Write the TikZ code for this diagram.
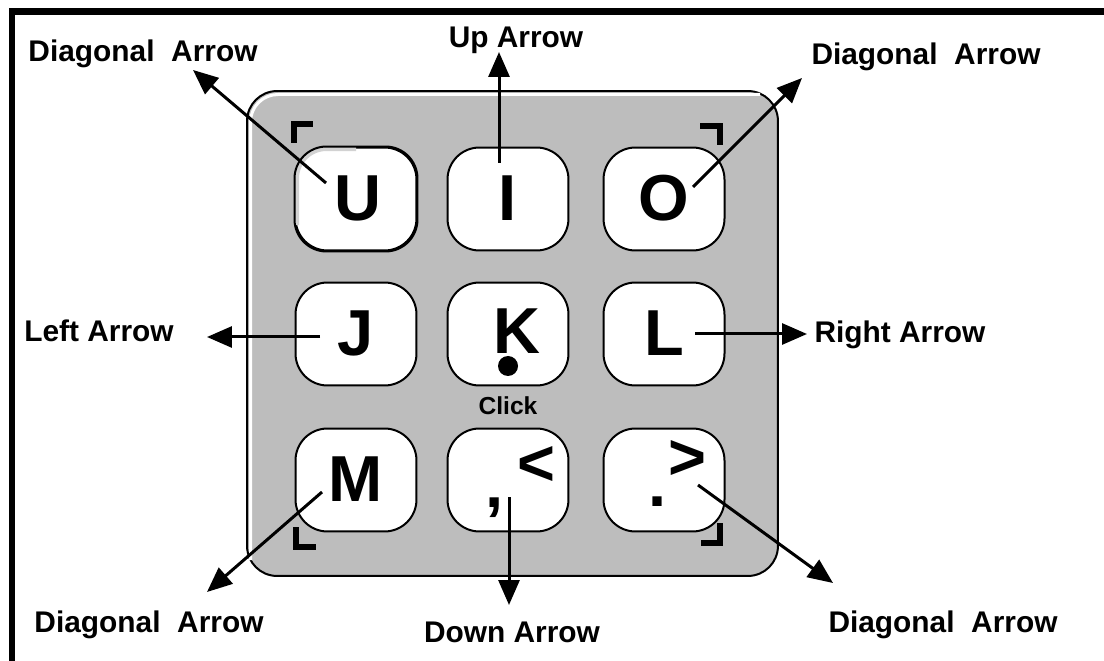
\documentclass[tikz,border=0pt]{standalone}
\usepackage{fontspec}
\setmainfont{Liberation Sans}
\usetikzlibrary{arrows.meta,calc}
\definecolor{padgrey}{RGB}{189,189,189}
\tikzset{
    key/.style={
        draw,
        rectangle,
        rounded corners=0.64cm,
        fill=white,
        line width=0.04cm,
        minimum width=2.42cm,
        minimum height=2.06cm
    },
    keychar/.style={font=\fontsize{37}{40}\selectfont\bfseries, inner sep=0pt},
    caption/.style={font=\fontsize{17}{20}\selectfont\bfseries, inner sep=0pt, anchor=base},
    pointer/.style={
        draw,
        -{Triangle[length=0.5cm, width=0.42cm]},
        line width=0.06cm
    },
    cornermark/.style={line width=0.11cm, line join=miter}
}

\begin{document}
\begin{tikzpicture}[x=0.02cm, y=-0.02cm]
    \useasboundingbox (0,0) rectangle (1104,661);
    % Frame (top and left edges only)
    \draw[line width=0.13cm, line join=miter] (1104,11.5) -- (12,11.5) -- (12,661);

    % Keypad
    \node[draw, fill=padgrey, line width=0.04cm, rounded corners=0.6cm,
          minimum width=10.62cm, minimum height=9.7cm] (pad) at (512.5,333.5) {};
    \draw[white, line width=0.06cm, rounded corners=0.55cm] (250.5,560) -- (250.5,94.5) -- (760,94.5);

    % Keys
    \node[key] (u) at (356,199) {};
    \node[key] (i) at (508,199) {};
    \node[key] (o) at (664,199) {};
    \node[key] (j) at (356,334) {};
    \node[key] (k) at (508,334) {};
    \node[key] (l) at (664,334) {};
    \node[key] (m) at (356,480) {};
    \node[key] (comma) at (508,480) {};
    \node[key] (period) at (664,480) {};
    % pressed look on U
    \begin{scope}
        \clip[rounded corners=0.64cm] (u.south west) rectangle (u.north east);
        \draw[gray!35, line width=0.18cm, rounded corners=0.64cm]
            ($(u.west)!0.5!(u.south west)$) -- (u.north west) -- (u.north);
    \end{scope}
    \draw[line width=0.04cm, rounded corners=0.64cm] (u.south west) rectangle (u.north east);

    % Key letters
    \node[keychar] (u-char) at (358,198) {U};
    \node[keychar] (i-char) at (508,198) {I};
    \node[keychar] (o-char) at (664,198) {O};
    \node[keychar] (j-char) at (356,333) {J};
    \node[keychar] (k-char) at (517,331) {K};
    \node[keychar] (l-char) at (664,333) {L};
    \node[keychar] (m-char) at (356,479) {M};
    \node[keychar, anchor=base] (comma-char) at (495,507) {,};
    \node[keychar] (lt-char) at (536,466) {<};
    \node[keychar, anchor=base] (period-char) at (658,506) {.};
    \node[keychar] (gt-char) at (687,460) {>};
    \fill (508,366) circle (10);
    \node[font=\fontsize{14}{16}\selectfont\bfseries, inner sep=0pt] (click) at (508,406) {Click};

    % Corner marks
    \draw[cornermark] (294,143) -- (294,124) -- (313,124);
    \draw[cornermark] (700,126) -- (720,126) -- (720,145);
    \draw[cornermark] (296,527) -- (296,547) -- (316,547);
    \draw[cornermark] (720,523) -- (720,543) -- (701,543);

    % Arrow tails and tips
    \coordinate (u-tail) at (326,183);
    \coordinate (i-tail) at (499,163);
    \coordinate (o-tail) at (693,187);
    \coordinate (j-tail) at (320,337);
    \coordinate (l-tail) at (695,334);
    \coordinate (m-tail) at (322,492);
    \coordinate (comma-tail) at (509,497);
    \coordinate (period-tail) at (698,485);
    \coordinate (ul-tip) at (193,70);
    \coordinate (up-tip) at (499,52);
    \coordinate (ur-tip) at (802,78);
    \coordinate (left-tip) at (207,337);
    \coordinate (right-tip) at (807,334);
    \coordinate (dl-tip) at (207,592);
    \coordinate (down-tip) at (509,605);
    \coordinate (dr-tip) at (833,583);

    \draw[pointer] (u-tail) -- (ul-tip);
    \draw[pointer] (i-tail) -- (up-tip);
    \draw[pointer] (o-tail) -- (ur-tip);
    \draw[pointer] (j-tail) -- (left-tip);
    \draw[pointer] (l-tail) -- (right-tip);
    \draw[pointer] (m-tail) -- (dl-tip);
    \draw[pointer] (comma-tail) -- (down-tip);
    \draw[pointer] (period-tail) -- (dr-tip);

    % Captions
    \node[caption] (ul-text) at (143,62) {Diagonal\ \ Arrow};
    \node[caption] (up-text) at (516,48) {Up Arrow};
    \node[caption] (ur-text) at (926,65) {Diagonal\ \ Arrow};
    \node[caption] (left-text) at (99,342) {Left Arrow};
    \node[caption] (right-text) at (900,343) {Right Arrow};
    \node[caption] (dl-text) at (149,632) {Diagonal\ \ Arrow};
    \node[caption] (down-text) at (512,642) {Down Arrow};
    \node[caption] (dr-text) at (943,632) {Diagonal\ \ Arrow};
\end{tikzpicture}
\end{document}
